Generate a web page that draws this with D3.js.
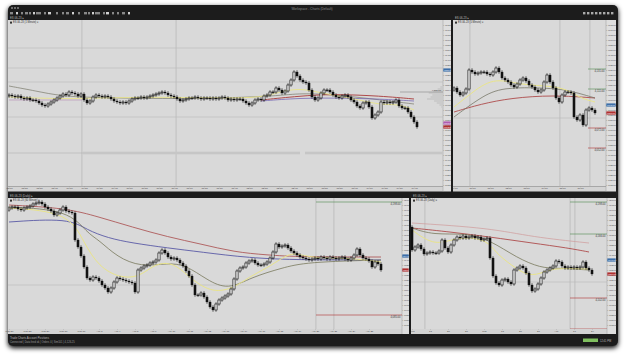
<!DOCTYPE html>
<html>
<head>
<meta charset="utf-8">
<script src="https://cdn.jsdelivr.net/npm/d3@7"></script>
<style>
html, body { margin: 0; padding: 0; background: #fff; }
svg { display: block; font-family: "Liberation Sans", "DejaVu Sans", sans-serif; }
</style>
</head>
<body>
<div id="canvas"></div>
<script>
// ---- closes per pane (open = previous close) ----
var tlOpen0 = 4104;
var tlCloses = [4105, 4104, 4103, 4104, 4102, 4101, 4102, 4100, 4100, 4099,
    4097, 4095, 4094, 4096, 4098, 4100, 4102, 4104, 4106, 4105,
    4108, 4107, 4106, 4104, 4106, 4100, 4097, 4099, 4103, 4105,
    4104, 4103, 4104, 4103, 4101, 4099, 4098, 4097, 4098, 4097,
    4099, 4101, 4102, 4102, 4103, 4102, 4103, 4104, 4105, 4106,
    4107, 4108, 4107, 4105, 4104, 4103, 4101, 4099, 4100, 4101,
    4102, 4102, 4103, 4102, 4101, 4102, 4102, 4101, 4102, 4101,
    4102, 4103, 4102, 4100, 4101, 4100, 4101, 4101, 4099, 4097,
    4095, 4097, 4100, 4101, 4100, 4104, 4105, 4108, 4108, 4112,
    4110, 4107, 4109, 4115, 4120, 4128, 4124, 4120, 4118, 4117,
    4110, 4103, 4100, 4102, 4107, 4110, 4110, 4108, 4105, 4103,
    4102, 4104, 4105, 4103, 4100, 4098, 4094, 4092, 4097, 4098,
    4093, 4082, 4085, 4088, 4098, 4097, 4098, 4097, 4098, 4100,
    4094, 4092, 4092, 4088, 4083, 4078, 4073];

var trOpen0 = 4110;
var trCloses = [4112, 4108, 4105, 4107, 4111, 4130, 4128, 4126, 4127, 4128,
    4128, 4126, 4125, 4128, 4132, 4128, 4122, 4120, 4118, 4115,
    4113, 4116, 4120, 4122, 4119, 4115, 4113, 4110, 4108, 4110,
    4118, 4125, 4118, 4112, 4102, 4098, 4105, 4108, 4108, 4107,
    4083, 4080, 4085, 4075, 4090, 4092, 4090, 4087];

var blOpen0 = 4190;
var blCloses = [4192, 4193, 4193, 4191, 4190, 4192, 4193, 4194, 4196, 4197,
    4198, 4196, 4193, 4191, 4189, 4185, 4187, 4190, 4193, 4189,
    4188, 4187, 4160, 4153, 4144, 4133, 4122, 4120, 4123, 4122,
    4119, 4115, 4112, 4108, 4112, 4118, 4122, 4121, 4120, 4119,
    4118, 4117, 4108, 4130, 4132, 4134, 4135, 4137, 4138, 4140,
    4147, 4150, 4147, 4143, 4141, 4142, 4140, 4137, 4134, 4129,
    4124, 4115, 4105, 4105, 4107, 4103, 4098, 4093, 4090, 4096,
    4100, 4102, 4104, 4106, 4111, 4121, 4129, 4132, 4133, 4137,
    4139, 4140, 4137, 4135, 4135, 4136, 4138, 4142, 4148, 4156,
    4153, 4154, 4155, 4152, 4149, 4147, 4145, 4143, 4142, 4141,
    4140, 4141, 4142, 4141, 4143, 4142, 4141, 4143, 4142, 4141,
    4142, 4143, 4141, 4140, 4142, 4145, 4151, 4145, 4142, 4141,
    4139, 4133, 4138, 4136, 4130];

var brOpen0 = 4173;
var brCloses = [4150, 4153, 4155, 4151, 4146, 4147, 4148, 4147, 4147, 4149,
    4160, 4152, 4148, 4155, 4160, 4163, 4162, 4164, 4162, 4163,
    4164, 4162, 4163, 4160, 4161, 4162, 4142, 4124, 4117, 4115,
    4120, 4121, 4118, 4116, 4130, 4132, 4134, 4132, 4127, 4115,
    4109, 4111, 4116, 4122, 4128, 4130, 4132, 4134, 4139, 4138,
    4134, 4132, 4133, 4132, 4133, 4132, 4133, 4138, 4132, 4130, 4126];

// ---- moving averages, [candle index, price] ----
var tlYellow = [[0, 4103], [17, 4101], [30, 4102], [50, 4103], [67, 4102], [84, 4102], [90, 4108], [97, 4112], [104, 4107], [110, 4104], [117, 4100], [124, 4095], [130, 4096], [135, 4090]];
var tlGrey = [[0, 4114], [9, 4109], [17, 4104], [30, 4102], [64, 4101], [90, 4104], [97, 4107], [110, 4105], [124, 4100], [135, 4096]];
var tlRed = [[84, 4100], [97, 4104], [108, 4106], [124, 4104], [135, 4101]];
var tlBlue = [[84, 4099], [97, 4102], [110, 4102], [124, 4101], [135, 4099]];

var trYellow = [[0, 4093], [5, 4105], [13, 4123], [22, 4115], [33, 4114], [38, 4110], [42, 4102], [47, 4098]];
var trGrey = [[0, 4083], [9, 4103], [16, 4113], [31, 4112], [38, 4110], [47, 4102]];
var trRed = [[0, 4088], [9, 4096], [19, 4102], [33, 4105], [47, 4102]];

var blBlue = [[0, 4178], [20, 4182], [26, 4170], [33, 4162], [41, 4157], [53, 4152], [64, 4148], [80, 4142], [97, 4140], [124, 4140]];
var blRed = [[0, 4195], [19, 4192], [30, 4183], [41, 4173], [53, 4163], [64, 4156], [75, 4148], [86, 4145], [97, 4143], [124, 4143]];
var blOlive = [[0, 4193], [20, 4190], [26, 4167], [30, 4160], [36, 4143], [44, 4133], [53, 4137], [59, 4135], [66, 4120], [73, 4110], [81, 4123], [91, 4132], [99, 4138], [124, 4140]];
var blYellow = [[0, 4192], [20, 4188], [25, 4157], [30, 4133], [37, 4122], [43, 4123], [47, 4132], [51, 4138], [56, 4135], [61, 4120], [68, 4107], [75, 4112], [80, 4123], [86, 4132], [91, 4142], [95, 4148], [100, 4142], [114, 4142], [124, 4138]];

var brYellow = [[0, 4170], [7, 4155], [13, 4160], [18, 4163], [25, 4160], [28, 4147], [33, 4135], [39, 4123], [44, 4128], [48, 4132], [59, 4131]];
var brOlive = [[0, 4172], [7, 4165], [18, 4167], [26, 4160], [35, 4142], [43, 4132], [48, 4132], [59, 4130]];
var brRed = [[0, 4172], [13, 4168], [26, 4163], [40, 4157], [52, 4152], [59, 4148]];
var brPink = [[0, 4177], [26, 4172], [40, 4163], [59, 4157]];

// ---- levels, session lines, tick labels ----
var tlLevels = [4152, 4132, 4118, 4083];
var trLevels = [4082];
var blLevels = [4115];
var brLevels = [4118];
var tlSessions = [24.3, 55.7];
var trSessions = [5.3, 35.3, 45.3];
var blSessions = [102.3, 108.3];
var brSessions = [4.3, 52.7, 54.3];
var trTargets = [[4131, "#4d8a4d"], [4111, "#4d8a4d"], [4072, "#b03030"], [4052, "#b03030"]];
var blTargets = [[4198, "#4d8a4d"], [4085, "#b03030"]];
var brTargets = [[4198, "#4d8a4d"], [4166, "#4d8a4d"], [4102, "#b03030"], [4071, "#b03030"]];
var tlProfile = [[4113, 3], [4111, 6], [4109, 11], [4107, 16], [4105, 12], [4103, 14], [4101, 18], [4099, 10], [4097, 7], [4095, 4], [4093, 2]];

var tlMarks = [[4130, "#3d6ea8"], [4077, "#b05cb0"], [4073, "#b03030"]];
var trMarks = [[4095, "#3d6ea8"], [4087, "#b03030"]];
var blMarks = [[4144, "#3d6ea8"], [4130, "#b03030"]];
var brMarks = [[4140, "#3d6ea8"], [4126, "#b03030"]];

var tlTimes = ["08:00", "08:15", "08:30", "08:45", "09:00", "09:15", "09:30", "09:45", "10:00", "10:15", "10:30", "10:45", "11:00", "11:15",
    "11:30", "11:45", "12:00", "12:15", "12:30", "12:45", "13:00", "13:15", "13:30", "13:45", "14:00", "14:15", "14:30", "14:45"];
var trTimes = ["09:00", "10:00", "11:00", "12:00", "13:00", "14:00", "15:00", "16:00"];
var blTimes = ["Mar 27", "Mar 28", "Mar 29", "Mar 30", "Mar 31", "Apr 3", "Apr 4", "Apr 5", "Apr 6", "Apr 10", "Apr 11",
    "Apr 12", "Apr 13", "Apr 14", "Apr 17", "Apr 18", "Apr 19", "Apr 20", "Apr 21", "Apr 24", "Apr 25"];
var brTimes = ["Feb", "13", "20", "27", "Mar", "13", "20", "27", "Apr", "17", "24"];

var Chart = (function() {
    var that = { svg: null, w: 625, h: 355 };

    that.init = function() {
        that.svg = d3.select("#canvas").append("svg").attr("width", that.w).attr("height", that.h);
        var defs = that.svg.append("defs");
        var f = defs.append("filter").attr("id", "shadow").attr("x", "-5%").attr("y", "-5%").attr("width", "110%").attr("height", "110%");
        f.append("feGaussianBlur").attr("in", "SourceAlpha").attr("stdDeviation", 2.5);
        f.append("feOffset").attr("dy", 1.5).attr("result", "b");
        var m = f.append("feMerge");
        m.append("feMergeNode").attr("in", "b");
        m.append("feMergeNode").attr("in", "SourceGraphic");

        // window frame
        that.svg.append("rect").attr("x", 8).attr("y", 5).attr("width", 610).attr("height", 341)
            .attr("rx", 5).attr("fill", "#1c1c1c").attr("filter", "url(#shadow)");
        that.chrome();
    };

    that.chrome = function() {
        var s = that.svg;
        // title
        s.append("text").attr("x", 312).attr("y", 9.6).attr("text-anchor", "middle")
            .style("font-size", "3.2px").style("fill", "#8a8a8a").text("Workspace - Charts (Default)");
        [11, 14, 17].forEach(function(x) {
            s.append("rect").attr("x", x).attr("y", 7).attr("width", 2).attr("height", 2).attr("fill", "#6a6a6a");
        });
        // toolbar icons
        var icons = [10, 16, 21, 25, 29, 33, 36, 39, 44, 48, 56, 62, 66, 72, 78, 84, 88, 92, 95, 98, 103, 106, 112, 117, 122, 128];
        icons.forEach(function(x, i) {
            s.append("rect").attr("x", x).attr("y", 12).attr("width", i % 3 == 0 ? 3 : 2).attr("height", 2.4)
                .attr("fill", i % 4 == 1 ? "#d0d0d0" : "#888");
        });
        [583, 587, 591, 595, 599, 603, 607, 611].forEach(function(x) {
            s.append("rect").attr("x", x).attr("y", 12).attr("width", 2.4).attr("height", 2.4).attr("fill", "#aaa");
        });
        // tabs
        s.append("text").attr("x", 10).attr("y", 19).style("font-size", "2.8px").style("fill", "#bbb").text("ES 06-23 \u25B8");
        s.append("text").attr("x", 455).attr("y", 19).style("font-size", "2.8px").style("fill", "#bbb").text("ES 06-23 \u25B8");
        s.append("text").attr("x", 10).attr("y", 196.6).style("font-size", "2.8px").style("fill", "#bbb").text("ES 06-23 (Daily) \u25B8");
        s.append("text").attr("x", 413).attr("y", 196.6).style("font-size", "2.8px").style("fill", "#bbb").text("ES 06-23 \u25B8");
        // status bar
        s.append("text").attr("x", 10).attr("y", 338.5).style("font-size", "2.8px").style("fill", "#bbb")
            .text("Trade Charts   Account   Positions");
        s.append("text").attr("x", 10).attr("y", 343).style("font-size", "2.6px").style("fill", "#999")
            .text("Connected | Data feed ok | Orders 0 | Sim101 | 4,126.25");
        s.append("rect").attr("x", 583).attr("y", 338.5).attr("width", 15).attr("height", 3.5).attr("fill", "#7fbf5f");
        s.append("text").attr("x", 600).attr("y", 341.6).style("font-size", "2.6px").style("fill", "#bbb").text("12:41 PM");
    };

    // one chart pane
    that.pane = function(c) {
        var s = that.svg.append("g");
        var n = c.closes.length;
        var x = d3.scaleLinear().domain([0, n - 1]).range([c.first, c.last]);
        var y = d3.scaleLinear().domain(c.dom).range([c.y1, c.y0]);

        // backgrounds
        s.append("rect").attr("x", c.x0).attr("y", c.y0).attr("width", c.ax - c.x0).attr("height", c.ty - c.y0).attr("fill", "#d9d9d9");
        s.append("rect").attr("x", c.ax).attr("y", c.y0).attr("width", c.ax1 - c.ax).attr("height", c.ty + 5 - c.y0).attr("fill", "#dedede");
        s.append("rect").attr("x", c.x0).attr("y", c.ty).attr("width", c.ax - c.x0).attr("height", 5).attr("fill", "#d3d3d3");
        s.append("line").attr("x1", c.ax).attr("x2", c.ax).attr("y1", c.y0).attr("y2", c.ty + 5).attr("stroke", "#9a9a9a").attr("stroke-width", 0.5);

        var clipId = "clip" + c.id;
        that.svg.select("defs").append("clipPath").attr("id", clipId).append("rect")
            .attr("x", c.x0).attr("y", c.y0).attr("width", c.ax - c.x0).attr("height", c.ty - c.y0);
        var g = s.append("g").attr("clip-path", "url(#" + clipId + ")");

        // session separators
        c.sessions.forEach(function(v) {
            g.append("line").attr("x1", x(v)).attr("x2", x(v)).attr("y1", c.y0).attr("y2", c.ty)
                .attr("stroke", "#b4b4b4").attr("stroke-width", 0.7);
        });
        // levels
        c.levels.forEach(function(v) {
            g.append("line").attr("x1", c.x0).attr("x2", c.ax).attr("y1", y(v)).attr("y2", y(v))
                .attr("stroke", "#b8b8b8").attr("stroke-width", 0.6);
        });
        if (c.extra) c.extra(g, x, y);

        // targets with labels
        (c.targets || []).forEach(function(t) {
            g.append("line").attr("x1", c.tx).attr("x2", c.ax).attr("y1", y(t[0])).attr("y2", y(t[0]))
                .attr("stroke", t[1]).attr("stroke-width", 0.6);
            g.append("text").attr("x", c.ax - 1.5).attr("y", y(t[0]) + 2.6).attr("text-anchor", "end")
                .style("font-size", "2.6px").style("fill", "#333").text(d3.format(",.2f")(t[0]));
        });

        // moving averages
        var line = d3.line().x(function(d) { return x(d[0]); }).y(function(d) { return y(d[1]); }).curve(d3.curveBasis);
        c.mas.forEach(function(m) {
            g.append("path").attr("d", line(m.data)).attr("fill", "none")
                .attr("stroke", m.color).attr("stroke-width", m.width || 0.7);
        });

        // candles
        var bw = 2.2;
        c.closes.forEach(function(cl, i) {
            var op = i == 0 ? c.open0 : c.closes[i - 1];
            var up = cl >= op;
            var top = y(Math.max(op, cl)), bot = y(Math.min(op, cl));
            g.append("line").attr("x1", x(i)).attr("x2", x(i)).attr("y1", top - 1.8).attr("y2", bot + 1.8)
                .attr("stroke", "#111").attr("stroke-width", 0.6);
            g.append("rect").attr("x", x(i) - bw / 2).attr("y", top).attr("width", bw).attr("height", Math.max(0.8, bot - top))
                .attr("fill", up ? "#ececec" : "#111").attr("stroke", "#111").attr("stroke-width", up ? 0.65 : 0.2);
        });

        // header
        s.append("rect").attr("x", c.x0 + 2).attr("y", c.y0 + 1.6).attr("width", 2).attr("height", 2).attr("fill", "#333");
        s.append("text").attr("x", c.x0 + 5).attr("y", c.y0 + 3.4).style("font-size", "2.6px").style("fill", "#333").text(c.title);

        // price axis
        var ticks = d3.range(Math.ceil(c.dom[0] / 5) * 5, c.dom[1], 5);
        var ax = s.append("g").attr("transform", "translate(" + c.ax + ",0)")
            .call(d3.axisRight(y).tickValues(ticks).tickSize(1).tickPadding(0.6).tickFormat(d3.format(".2f")));
        ax.select(".domain").remove();
        ax.selectAll("text").style("font-size", "2.3px").style("fill", "#444");
        ax.selectAll("line").attr("stroke", "#888").attr("stroke-width", 0.3);

        // price markers on the axis
        c.marks.forEach(function(mk) {
            s.append("rect").attr("x", c.ax + 0.3).attr("y", y(mk[0]) - 1.6).attr("width", c.ax1 - c.ax - 0.6).attr("height", 3.2)
                .attr("fill", mk[1]);
            s.append("text").attr("x", c.ax + 0.8).attr("y", y(mk[0]) + 0.9).style("font-size", "2.3px").style("fill", "#fff")
                .text(d3.format(".2f")(mk[0]));
        });

        // time axis
        var tv = c.times.map(function(d, i) { return i * c.step; });
        var tx = s.append("g").attr("transform", "translate(0," + c.ty + ")")
            .call(d3.axisBottom(x).tickValues(tv).tickSize(0.8).tickPadding(0.4).tickFormat(function(d, i) { return c.times[i]; }));
        tx.select(".domain").remove();
        tx.selectAll("text").style("font-size", "2.5px").style("fill", "#444");
        tx.selectAll("line").attr("stroke", "#888").attr("stroke-width", 0.3);
    };

    return that;
})();

Chart.init();

// top left: intraday
Chart.pane({
    id: "tl", title: "ES 06-23  (1 Minute)  \u25BE", x0: 8, ax: 443, ax1: 451, y0: 20, y1: 186, ty: 186.5,
    first: 9, last: 417, dom: [4014, 4180], closes: tlCloses, open0: tlOpen0,
    sessions: tlSessions, levels: tlLevels, marks: tlMarks, times: tlTimes, step: 5,
    mas: [
        { data: tlGrey, color: "#7a7a6a" },
        { data: tlBlue, color: "#6a5ab0" },
        { data: tlRed, color: "#a83a3a", width: 0.9 },
        { data: tlYellow, color: "#e9e48a", width: 0.9 }
    ],
    extra: function(g, x, y) {
        // prior level + zone band
        g.append("line").attr("x1", 9).attr("x2", 82).attr("y1", y(4100)).attr("y2", y(4100)).attr("stroke", "#b58ab5").attr("stroke-width", 0.6);
        g.append("line").attr("x1", 8).attr("x2", 83).attr("y1", y(4047)).attr("y2", y(4047)).attr("stroke", "#aaa").attr("stroke-width", 0.5);
        g.append("rect").attr("x", 83).attr("y", y(4047) - 1.3).attr("width", 217).attr("height", 2.6).attr("fill", "#c6c6c6");
        g.append("rect").attr("x", 305).attr("y", y(4047) - 1.3).attr("width", 138).attr("height", 2.6).attr("fill", "#c6c6c6");
        // volume profile
        var vp = d3.scaleLinear().domain([0, 18]).range([0, 16]);
        tlProfile.forEach(function(p) {
            g.append("rect").attr("x", 443 - vp(p[1])).attr("y", y(p[0]) - 0.9).attr("width", vp(p[1])).attr("height", 1.8).attr("fill", "#c9c9c9");
        });
        g.append("line").attr("x1", 400).attr("x2", 443).attr("y1", y(4108)).attr("y2", y(4108)).attr("stroke", "#777").attr("stroke-width", 0.5);
        g.append("text").attr("x", 441).attr("y", y(4108) - 0.6).attr("text-anchor", "end").style("font-size", "2.4px").style("fill", "#333").text("4,108.00");
    }
});

// top right
Chart.pane({
    id: "tr", title: "ES 06-23  (5 Minute)  \u25BE", x0: 453, ax: 606, ax1: 616, y0: 20, y1: 186, ty: 186.5,
    first: 454, last: 595, dom: [4014, 4180], closes: trCloses, open0: trOpen0,
    sessions: trSessions, levels: trLevels, marks: trMarks, times: trTimes, step: 6,
    targets: trTargets, tx: 588,
    mas: [
        { data: trRed, color: "#a83a3a", width: 0.8 },
        { data: trGrey, color: "#6b6b5a" },
        { data: trYellow, color: "#e9e48a", width: 1 }
    ]
});

// bottom left
Chart.pane({
    id: "bl", title: "ES 06-23  (60 Minute)  \u25BE", x0: 8, ax: 402, ax1: 409, y0: 198, y1: 329, ty: 329,
    first: 9, last: 381, dom: [4071, 4202], closes: blCloses, open0: blOpen0,
    sessions: blSessions, levels: blLevels, marks: blMarks, times: blTimes, step: 6,
    targets: blTargets, tx: 316,
    mas: [
        { data: blRed, color: "#a84a4a", width: 0.8 },
        { data: blBlue, color: "#4a4aa0", width: 0.8 },
        { data: blOlive, color: "#6b6b4a", width: 0.7 },
        { data: blYellow, color: "#e9e48a", width: 1 }
    ]
});

// bottom right
Chart.pane({
    id: "br", title: "ES 06-23  (Daily)  \u25BE", x0: 411, ax: 607, ax1: 616, y0: 198, y1: 329, ty: 329,
    first: 412, last: 592, dom: [4071, 4202], closes: brCloses, open0: brOpen0,
    sessions: brSessions, levels: brLevels, marks: brMarks, times: brTimes, step: 6,
    targets: brTargets, tx: 570,
    mas: [
        { data: brPink, color: "#d09a9a", width: 0.7 },
        { data: brRed, color: "#a83a3a", width: 0.8 },
        { data: brOlive, color: "#6b6b4a", width: 0.7 },
        { data: brYellow, color: "#e9e48a", width: 1 }
    ]
});

// pane splitters
Chart.svg.append("rect").attr("x", 451).attr("y", 20).attr("width", 2).attr("height", 172).attr("fill", "#1c1c1c");
Chart.svg.append("rect").attr("x", 409).attr("y", 198).attr("width", 2).attr("height", 136).attr("fill", "#1c1c1c");
</script>
</body>
</html>
